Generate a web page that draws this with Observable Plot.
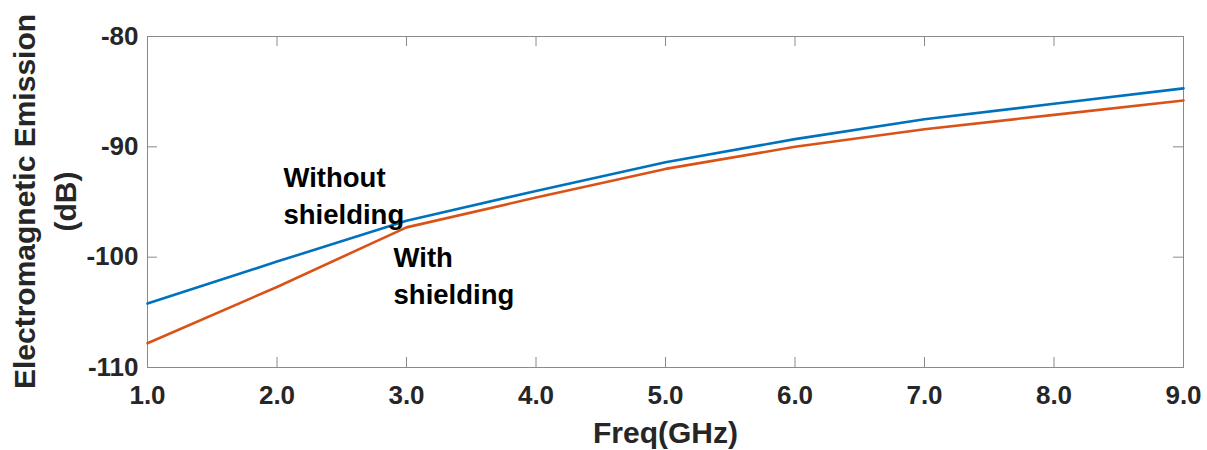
<!DOCTYPE html>
<html>
<head>
<meta charset="utf-8">
<script src="https://cdn.jsdelivr.net/npm/d3@7"></script>
<script src="https://cdn.jsdelivr.net/npm/@observablehq/plot@0.6"></script>
<style>
  html, body { margin: 0; padding: 0; background: #fff; }
  #chart svg { display: block; }
</style>
</head>
<body>
<div id="chart"></div>
<script>
// ---- data ----
const freq = [1, 2, 3, 4, 5, 6, 7, 8, 9];
const withoutShielding = [-104.2, -100.4, -96.7, -94.0, -91.4, -89.3, -87.5, -86.1, -84.7];
const withShielding = [-107.8, -102.7, -97.3, -94.6, -92.0, -90.0, -88.4, -87.1, -85.8];
const seriesNames = ["Without shielding", "With shielding"];
const xTicks = [1, 2, 3, 4, 5, 6, 7, 8, 9];
const yTicks = [-110, -100, -90, -80];
const annotationText = ["Without\nshielding", "With\nshielding"];
const annotationFreq = [2.05, 2.9];
const annotationDb = [-91.35, -98.6];
const xTitle = "Freq(GHz)";
const yTitleLines = ["Electromagnetic Emission", "(dB)"];

// ---- build tables ----
const rows = [];
freq.forEach((f, i) => {
  rows.push({freq: f, db: withoutShielding[i], series: seriesNames[0]});
});
freq.forEach((f, i) => {
  rows.push({freq: f, db: withShielding[i], series: seriesNames[1]});
});
const annotations = annotationText.map((t, i) => ({text: t, freq: annotationFreq[i], db: annotationDb[i]}));

const W = 1207, H = 450;
const mL = 147, mR = 24, mT = 36, mB = 83;
const plotH = H - mT - mB;
const plotW = W - mL - mR;
const tickLen = 10;
const font = "'Liberation Sans', Arial, sans-serif";
const ink = "#262626";

const chart = Plot.plot({
  width: W,
  height: H,
  marginLeft: mL,
  marginRight: mR,
  marginTop: mT,
  marginBottom: mB,
  style: {fontFamily: font, fontWeight: "bold", background: "#fff", overflow: "visible"},
  x: {domain: [1, 9]},
  y: {domain: [-110, -80]},
  color: {domain: seriesNames, range: ["#0072BD", "#D95319"]},
  marks: [
    Plot.frame({stroke: "#8a8a8a", strokeWidth: 1}),
    // inward ticks
    Plot.ruleX(xTicks, {x: d => d, insetTop: plotH - tickLen, stroke: "#8a8a8a"}),
    Plot.ruleX(xTicks, {x: d => d, insetBottom: plotH - tickLen, stroke: "#8a8a8a"}),
    Plot.ruleY(yTicks, {y: d => d, insetRight: plotW - tickLen, stroke: "#8a8a8a"}),
    Plot.ruleY(yTicks, {y: d => d, insetLeft: plotW - tickLen, stroke: "#8a8a8a"}),
    Plot.axisX({ticks: xTicks, tickFormat: d => d.toFixed(1), tickSize: 0, tickPadding: 18,
      fontSize: 26, fontWeight: "bold", fill: ink, label: null}),
    Plot.axisY({ticks: yTicks, tickFormat: d => String(d), tickSize: 0, tickPadding: 9,
      fontSize: 26, fontWeight: "bold", fill: ink, label: null}),
    Plot.line(rows, {x: "freq", y: "db", z: "series", stroke: "series", strokeWidth: 2.6}),
    Plot.text(annotations, {x: "freq", y: "db", text: "text", textAnchor: "start", lineAnchor: "top",
      lineHeight: 1.32, fontSize: 27.5, fontWeight: "bold", fill: "#000"}),
    Plot.text([xTitle], {frameAnchor: "bottom", dy: 54, lineAnchor: "top",
      fontSize: 30, fontWeight: "bold", fill: ink})
  ]
});
document.getElementById("chart").appendChild(chart);

// rotated y-axis title, centred on the plot frame
const svg = d3.select(chart);
const cy = mT + plotH / 2;
const yTitle = svg.append("text")
  .attr("transform", `translate(${mL - 102.5},${cy}) rotate(-90)`)
  .attr("text-anchor", "middle")
  .attr("font-family", font)
  .attr("font-weight", "bold")
  .attr("font-size", 30)
  .attr("fill", ink);
yTitleLines.forEach((line, i) => {
  yTitle.append("tspan")
    .attr("x", 0)
    .attr("y", (i - (yTitleLines.length - 1) / 2) * 41)
    .attr("dy", "0.35em")
    .text(line);
});
</script>
</body>
</html>
